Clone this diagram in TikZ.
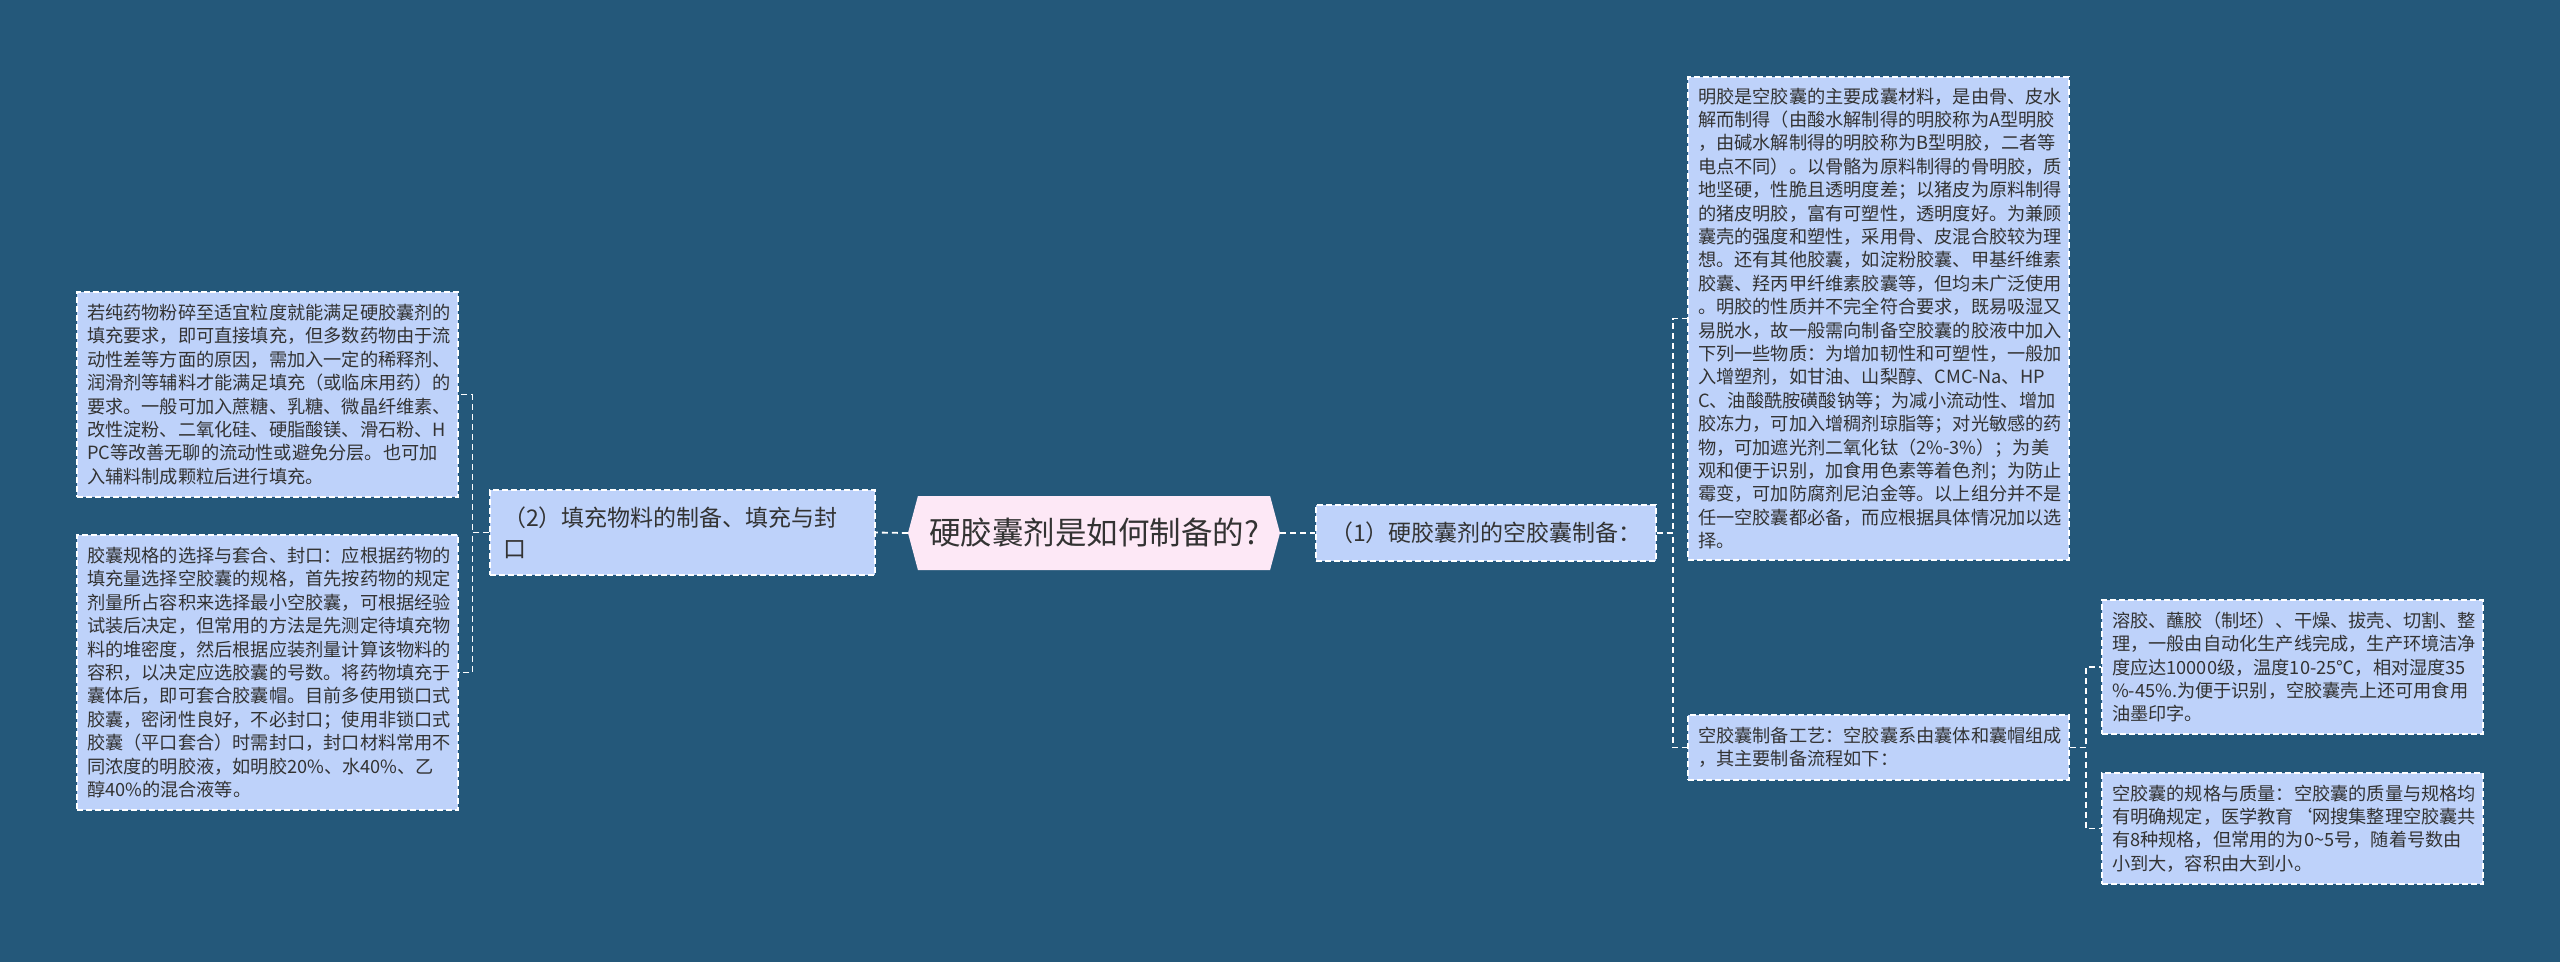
\documentclass[tikz,border=0pt]{standalone}
\usepackage{fontspec}
\setmainfont{Noto Sans CJK SC}
\usetikzlibrary{shapes.symbols}

\definecolor{bgblue}{RGB}{36,88,122}
\definecolor{leafblue}{RGB}{190,210,250}
\definecolor{rootpink}{RGB}{253,232,246}
\definecolor{textgray}{RGB}{51,51,51}

\begin{document}
\begin{tikzpicture}[x=1pt, y=-1pt,
  every node/.style={text=textgray, inner ysep=0pt},
  leaf/.style={draw=white, line width=1.2pt, dash pattern=on 6pt off 3pt, fill=leafblue,
    font=\fontsize{18.2}{23.4}\selectfont, align=left, text width=361pt, inner xsep=10pt},
  topic/.style={draw=white, line width=1.2pt, dash pattern=on 6pt off 3pt, fill=leafblue,
    font=\fontsize{23}{31}\selectfont},
  root/.style={shape=signal, signal to=west and east, signal pointer angle=150, fill=rootpink,
    minimum width=372pt, minimum height=74pt, font=\fontsize{31.5}{38}\selectfont},
  link/.style={draw=white, line width=1.8pt, dash pattern=on 6pt off 4pt}]

  \fill[bgblue] (0,0) rectangle (2560,962);

  \node[root] (main) at (1094, 533) {硬胶囊剂是如何制备的?};

  % left branch
  \node[topic, align=left, text width=359pt, inner xsep=13pt, minimum height=85pt] (prep) at (682.5, 532.5) {（2）填充物料的制备、填充与封\\口};

  \node[leaf, minimum height=205pt] (fill) at (267.5, 394.5) {若纯药物粉碎至适宜粒度就能满足硬胶囊剂的\\填充要求，即可直接填充，但多数药物由于流\\动性差等方面的原因，需加入一定的稀释剂、\\润滑剂等辅料才能满足填充（或临床用药）的\\要求。一般可加入蔗糖、乳糖、微晶纤维素、\\改性淀粉、二氧化硅、硬脂酸镁、滑石粉、H\\PC等改善无聊的流动性或避免分层。也可加\\入辅料制成颗粒后进行填充。};
  \node[leaf, minimum height=275pt] (seal) at (267.5, 672.5) {胶囊规格的选择与套合、封口：应根据药物的\\填充量选择空胶囊的规格，首先按药物的规定\\剂量所占容积来选择最小空胶囊，可根据经验\\试装后决定，但常用的方法是先测定待填充物\\料的堆密度，然后根据应装剂量计算该物料的\\容积，以决定应选胶囊的号数。将药物填充于\\囊体后，即可套合胶囊帽。目前多使用锁口式\\胶囊，密闭性良好，不必封口；使用非锁口式\\胶囊（平口套合）时需封口，封口材料常用不\\同浓度的明胶液，如明胶20\%、水40\%、乙\\醇40\%的混合液等。};

  % right branch
  \node[topic, minimum width=340pt, minimum height=56pt] (shell) at (1486, 533) {（1）硬胶囊剂的空胶囊制备：};

  \node[leaf, minimum height=483pt] (gelatin) at (1878.5, 318.5) {明胶是空胶囊的主要成囊材料，是由骨、皮水\\解而制得（由酸水解制得的明胶称为A型明胶\\，由碱水解制得的明胶称为B型明胶，二者等\\电点不同）。以骨骼为原料制得的骨明胶，质\\地坚硬，性脆且透明度差；以猪皮为原料制得\\的猪皮明胶，富有可塑性，透明度好。为兼顾\\囊壳的强度和塑性，采用骨、皮混合胶较为理\\想。还有其他胶囊，如淀粉胶囊、甲基纤维素\\胶囊、羟丙甲纤维素胶囊等，但均未广泛使用\\。明胶的性质并不完全符合要求，既易吸湿又\\易脱水，故一般需向制备空胶囊的胶液中加入\\下列一些物质：为增加韧性和可塑性，一般加\\入增塑剂，如甘油、山梨醇、CMC-Na、HP\\C、油酸酰胺磺酸钠等；为减小流动性、增加\\胶冻力，可加入增稠剂琼脂等；对光敏感的药\\物，可加遮光剂二氧化钛（2\%-3\%）；为美\\观和便于识别，加食用色素等着色剂；为防止\\霉变，可加防腐剂尼泊金等。以上组分并不是\\任一空胶囊都必备，而应根据具体情况加以选\\择。};
  \node[leaf, minimum height=65pt] (craft) at (1878.5, 747.5) {空胶囊制备工艺：空胶囊系由囊体和囊帽组成\\，其主要制备流程如下：};

  \node[leaf, minimum height=134pt] (process) at (2292.5, 667) {溶胶、蘸胶（制坯）、干燥、拔壳、切割、整\\理，一般由自动化生产线完成，生产环境洁净\\度应达10000级，温度10-25℃，相对湿度35\\\%-45\%.为便于识别，空胶囊壳上还可用食用\\油墨印字。};
  \node[leaf, minimum height=111pt] (spec) at (2292.5, 828.5) {空胶囊的规格与质量：空胶囊的质量与规格均\\有明确规定，医学教育\symbol{96}网搜集整理空胶囊共\\有8种规格，但常用的为0\symbol{126}5号，随着号数由\\小到大，容积由大到小。};

  % connectors
  \draw[link] (main.west) -- (prep.east);
  \draw[link] (main.east) -- (shell.west);
  \draw[link] (prep.west) -- ++(-17,0) |- (fill.east);
  \draw[link] (prep.west) -- ++(-17,0) |- (seal.east);
  \draw[link] (shell.east) -- ++(16,0) |- (gelatin.west);
  \draw[link] (shell.east) -- ++(16,0) |- (craft.west);
  \draw[link] (craft.east) -- ++(16,0) |- (process.west);
  \draw[link] (craft.east) -- ++(16,0) |- (spec.west);

\end{tikzpicture}
\end{document}
